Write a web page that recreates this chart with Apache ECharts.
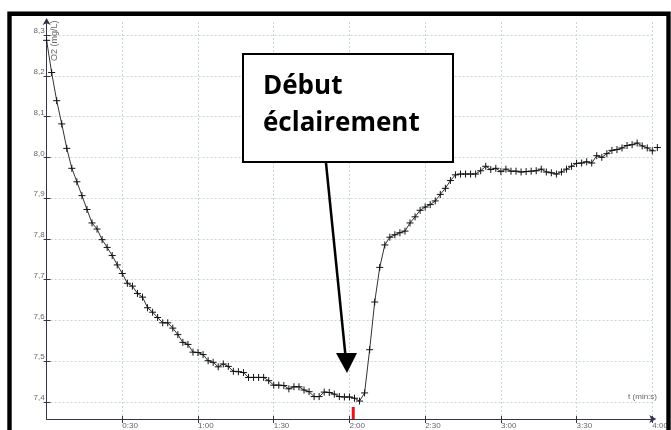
<!DOCTYPE html>
<html>
<head>
<meta charset="utf-8">
<title>O2 (mg/L)</title>
<script src="https://cdn.jsdelivr.net/npm/echarts@6/dist/echarts.min.js"></script>
<style>
    html, body { margin: 0; padding: 0; background: #fff; }
    #main { width: 671px; height: 430px; }
</style>
</head>
<body>
<div id="main"></div>
<script>
// time of each sample, in seconds
var times = [
    0, 2, 4, 6, 8, 10, 12, 14, 16, 18,
    20, 22, 24, 26, 28, 30, 32, 34, 36, 38,
    40, 42, 44, 46, 48, 50, 52, 54, 56, 58,
    60, 62, 64, 66, 68, 70, 72, 74, 76, 78,
    80, 82, 84, 86, 88, 90, 92, 94, 96, 98,
    100, 102, 104, 106, 108, 110, 112, 114, 116, 118,
    120, 122, 124, 126, 128, 130, 132, 134, 136, 138,
    140, 142, 144, 146, 148, 150, 152, 154, 156, 158,
    160, 162, 164, 166, 168, 170, 172, 174, 176, 178,
    180, 182, 184, 186, 188, 190, 192, 194, 196, 198,
    200, 202, 204, 206, 208, 210, 212, 214, 216, 218,
    220, 222, 224, 226, 228, 230, 232, 234, 236, 238,
    240, 242
];

// dissolved O2 (mg/L)
var o2 = [
    8.287, 8.208, 8.139, 8.082, 8.022, 7.973, 7.940, 7.906, 7.872, 7.839,
    7.824, 7.798, 7.779, 7.759, 7.736, 7.715, 7.691, 7.684, 7.666, 7.657,
    7.631, 7.620, 7.607, 7.594, 7.594, 7.581, 7.565, 7.546, 7.541, 7.522,
    7.521, 7.516, 7.501, 7.497, 7.486, 7.493, 7.487, 7.475, 7.474, 7.472,
    7.460, 7.460, 7.460, 7.460, 7.452, 7.441, 7.441, 7.440, 7.432, 7.437,
    7.437, 7.429, 7.425, 7.413, 7.413, 7.424, 7.423, 7.419, 7.413, 7.412,
    7.412, 7.409, 7.402, 7.422, 7.528, 7.645, 7.730, 7.785, 7.804, 7.810,
    7.815, 7.819, 7.839, 7.854, 7.870, 7.878, 7.884, 7.893, 7.909, 7.924,
    7.943, 7.957, 7.959, 7.959, 7.959, 7.959, 7.967, 7.978, 7.970, 7.973,
    7.965, 7.971, 7.966, 7.966, 7.964, 7.965, 7.966, 7.967, 7.971, 7.964,
    7.962, 7.959, 7.964, 7.971, 7.978, 7.985, 7.986, 7.989, 7.986, 8.004,
    8.000, 8.009, 8.017, 8.019, 8.023, 8.029, 8.031, 8.035, 8.028, 8.023,
    8.016, 8.024
];

// axis ticks
var xTicks = [30, 60, 90, 120, 150, 180, 210, 240];
var xTickLabels = ['0:30', '1:00', '1:30', '2:00', '2:30', '3:00', '3:30', '4:00'];
var yTicks = [7.4, 7.5, 7.6, 7.7, 7.8, 7.9, 8.0, 8.1, 8.2, 8.3];

// start of illumination (s)
var lightOn = 121.5;

var myChart = echarts.init(document.getElementById('main'));

var gridColor = '#c6d6d9';
var axisColor = '#33334a';
var labelFont = { color: '#666', fontSize: 8, fontFamily: 'Liberation Sans' };

var points = times.map(function (t, i) { return [t, o2[i]]; });

option = {
    animation: false,
    backgroundColor: '#fff',
    grid: { left: 46.6, right: 18.7, top: 22, bottom: 10.7 },
    xAxis: [
        {
            type: 'value',
            min: 0,
            max: 240,
            axisLine: {
                lineStyle: { color: axisColor, width: 1 },
                symbol: ['none', 'arrow'],
                symbolSize: [6, 7],
                symbolOffset: [0, 4]
            },
            axisTick: { customValues: xTicks, length: 4, lineStyle: { color: axisColor } },
            axisLabel: Object.assign({
                customValues: xTicks,
                margin: 3,
                align: 'left',
                formatter: function (v) { return xTickLabels[xTicks.indexOf(v)]; }
            }, labelFont),
            splitLine: { show: true, lineStyle: { color: gridColor, type: [2, 2] } }
        },
        {
            // inner half of the ticks, so they cross the axis
            type: 'value',
            position: 'bottom',
            min: 0,
            max: 240,
            axisLine: { show: false },
            axisTick: { customValues: xTicks, inside: true, length: 3, lineStyle: { color: axisColor } },
            axisLabel: { show: false },
            splitLine: { show: false }
        }
    ],
    yAxis: [
        {
            type: 'value',
            min: 7.358,
            max: 8.332,
            axisLine: {
                show: true,
                lineStyle: { color: axisColor, width: 1 },
                symbol: ['none', 'arrow'],
                symbolSize: [6, 7],
                symbolOffset: [0, 4]
            },
            axisTick: { show: true, customValues: yTicks, length: 3, lineStyle: { color: axisColor } },
            axisLabel: Object.assign({
                customValues: yTicks,
                margin: 2,
                verticalAlign: 'bottom',
                formatter: function (v) { return v.toFixed(1).replace('.', ','); }
            }, labelFont),
            splitLine: { show: true, lineStyle: { color: gridColor, type: [2, 2] } }
        },
        {
            type: 'value',
            position: 'left',
            min: 7.358,
            max: 8.332,
            axisLine: { show: false },
            axisTick: { show: true, customValues: yTicks, inside: true, length: 4, lineStyle: { color: axisColor } },
            axisLabel: { show: false },
            splitLine: { show: false }
        }
    ],
    series: [
        {
            type: 'line',
            data: points,
            clip: false,
            symbol: 'path://M0,-1L0,1M-1,0L1,0',
            symbolSize: 7,
            showAllSymbol: true,
            itemStyle: { color: 'none', borderColor: '#111', borderWidth: 1 },
            lineStyle: { color: '#333', width: 1 }
        }
    ],
    graphic: [
        // outer frame
        {
            type: 'rect',
            shape: { x: 9.5, y: 13.7, width: 659, height: 440 },
            style: { fill: 'none', stroke: '#000', lineWidth: 4.4 },
            z: 100
        },
        // axis names
        {
            type: 'text',
            x: 55,
            y: 61,
            rotation: Math.PI / 2,
            style: { text: 'O2 (mg/L)', align: 'left', verticalAlign: 'middle', fill: '#666', fontSize: 9, fontFamily: 'Liberation Sans' },
            z: 50
        },
        {
            type: 'text',
            x: 657,
            y: 397,
            style: { text: 't (min:s)', align: 'right', verticalAlign: 'middle', fill: '#666', fontSize: 8, fontFamily: 'Liberation Sans' },
            z: 50
        },
        // annotation box
        {
            type: 'rect',
            shape: { x: 243, y: 54, width: 210, height: 108 },
            style: { fill: '#fff', stroke: '#000', lineWidth: 2 },
            z: 60
        },
        {
            type: 'text',
            x: 263,
            y: 105.5,
            style: {
                text: 'Début\néclairement',
                align: 'left',
                verticalAlign: 'middle',
                fill: '#000',
                fontSize: 26,
                lineHeight: 37,
                fontWeight: 'bold',
                fontFamily: 'Open Sans'
            },
            z: 61
        },
        // arrow
        {
            type: 'line',
            shape: { x1: 326, y1: 163, x2: 345.5, y2: 356 },
            style: { stroke: '#000', lineWidth: 2.5 },
            z: 60
        },
        {
            type: 'polygon',
            shape: { points: [[336, 353], [357, 353], [347, 373]] },
            style: { fill: '#000' },
            z: 60
        }
    ]
};

myChart.setOption(option);

// red mark on the time axis at the start of illumination
var base = myChart.convertToPixel({ gridIndex: 0 }, [lightOn, 7.358]);
myChart.setOption({
    graphic: option.graphic.concat([{
        type: 'rect',
        shape: { x: base[0] - 1.5, y: base[1] - 12, width: 3, height: 12 },
        style: { fill: '#e8141b' },
        z: 55
    }])
});
</script>
</body>
</html>
